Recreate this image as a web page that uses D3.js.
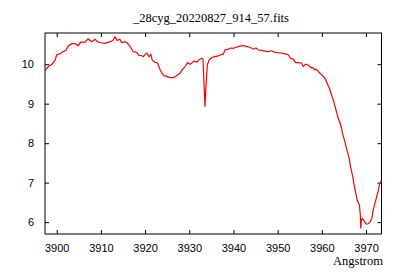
<!DOCTYPE html>
<html>
<head>
<meta charset="utf-8">
<script src="https://cdn.jsdelivr.net/npm/d3@7"></script>
<style>
body { margin: 0; background: #fff; }
.axis text { font-family: "Liberation Sans", sans-serif; font-size: 11px; fill: #000; }
.axis path { display: none; }
.axis line { stroke: #000; }
</style>
</head>
<body>
<div class="chart"></div>
<script>
// spectrum
const wavelength = [3897.35,3898.1,3898.9,3899.6,3900.0,3900.7,3901.5,3902.1,3902.6,3903.4,3904.1,3904.9,3905.4,3906.4,3907.1,3907.9,3908.7,3909.2,3909.8,3910.9,3912.1,3912.7,3913.2,3913.7,3914.3,3914.7,3915.5,3916.0,3916.6,3917.3,3918.1,3918.6,3919.2,3919.6,3920.0,3920.4,3920.9,3921.3,3921.6,3922.2,3922.8,3923.0,3923.4,3923.8,3924.3,3924.9,3925.6,3926.4,3926.9,3927.4,3927.9,3928.4,3928.9,3929.2,3929.6,3930.2,3930.7,3931.1,3931.7,3932.2,3932.8,3933.1,3933.3,3933.55,3933.8,3934.1,3934.5,3935.1,3935.8,3936.6,3937.1,3937.7,3938.1,3938.8,3939.4,3940.0,3940.6,3941.3,3942.2,3943.0,3943.7,3944.5,3945.1,3945.6,3946.4,3947.1,3947.9,3948.6,3949.4,3950.1,3950.9,3951.7,3952.4,3952.9,3953.5,3954.1,3954.7,3955.4,3955.8,3956.3,3956.9,3957.5,3958.1,3958.4,3958.8,3959.4,3960.0,3960.5,3960.9,3961.2,3961.7,3962.2,3962.6,3963.2,3963.7,3964.3,3964.7,3965.2,3965.7,3966.2,3966.5,3967.0,3967.3,3967.7,3968.0,3968.5,3968.7,3968.8,3968.95,3969.1,3969.5,3970.0,3970.5,3970.9,3971.3,3971.6,3972.0,3972.4,3972.8,3973.1,3973.5];
const flux = [9.84,9.94,10.00,10.09,10.24,10.26,10.32,10.35,10.46,10.52,10.52,10.47,10.56,10.56,10.64,10.57,10.63,10.57,10.55,10.53,10.57,10.60,10.69,10.60,10.63,10.55,10.57,10.53,10.45,10.32,10.30,10.22,10.22,10.19,10.25,10.28,10.19,10.25,10.11,10.05,10.03,9.98,9.86,9.77,9.71,9.69,9.66,9.66,9.69,9.73,9.77,9.86,9.92,9.96,10.04,10.00,10.04,10.08,10.05,10.11,10.15,10.13,9.60,8.92,9.50,9.98,10.11,10.17,10.19,10.21,10.24,10.26,10.36,10.38,10.41,10.40,10.43,10.45,10.47,10.45,10.43,10.38,10.41,10.36,10.35,10.33,10.32,10.34,10.30,10.29,10.28,10.26,10.24,10.15,10.13,10.04,10.04,10.03,9.94,10.00,9.98,9.92,9.90,9.86,9.87,9.79,9.73,9.67,9.60,9.52,9.39,9.22,9.09,8.84,8.63,8.46,8.25,8.04,7.82,7.61,7.40,7.15,6.94,6.72,6.56,6.43,6.20,5.84,6.05,6.09,6.05,5.95,5.96,6.00,6.09,6.30,6.47,6.64,6.81,6.98,7.05];
const xTicks = [3900,3910,3920,3930,3940,3950,3960,3970];
const yTicks = [6,7,8,9,10];
const title = "_28cyg_20220827_914_57.fits";
const xLabel = "Angstrom";

let margin = {top:33, right:18.5, left:45, bottom:46};
let outWidth = 400, outHeight = 280;
let width = outWidth - margin.left - margin.right,
    height = outHeight - margin.top - margin.bottom;

const svg = d3.select('.chart').append('svg')
    .attr("width", outWidth)
    .attr("height", outHeight);

const g = svg.append("g")
    .attr("transform", `translate(${margin.left}, ${margin.top})`);

let xScale = d3.scaleLinear().domain([3897.35, 3973.5]).range([0, width]);
let yScale = d3.scaleLinear().domain([5.70, 10.79]).range([height, 0]);

// inward ticks on all four sides, labels on bottom and left only
g.append("g").attr("class", "axis")
    .attr("transform", `translate(0, ${height})`)
    .call(d3.axisBottom(xScale).tickValues(xTicks).tickSize(-4).tickPadding(10).tickFormat(d3.format("d")));
g.append("g").attr("class", "axis")
    .call(d3.axisTop(xScale).tickValues(xTicks).tickSize(-4).tickFormat(""));
g.append("g").attr("class", "axis")
    .call(d3.axisLeft(yScale).tickValues(yTicks).tickSize(-4).tickPadding(11).tickFormat(d3.format("d")));
g.append("g").attr("class", "axis")
    .attr("transform", `translate(${width}, 0)`)
    .call(d3.axisRight(yScale).tickValues(yTicks).tickSize(-4).tickFormat(""));

g.append("rect")
    .attr("width", width)
    .attr("height", height)
    .attr("fill", "none")
    .attr("stroke", "#000");

const line = d3.line()
    .x((d, i) => xScale(wavelength[i]))
    .y(d => yScale(d));

g.append("path")
    .datum(flux)
    .attr("fill", "none")
    .attr("stroke", "#ff0000")
    .attr("stroke-width", 1.2)
    .attr("d", line);

svg.append("text")
    .attr("x", 211)
    .attr("y", 22)
    .attr("text-anchor", "middle")
    .attr("font-family", "Liberation Serif, serif")
    .attr("font-size", 12.5)
    .text(title);

svg.append("text")
    .attr("x", 383)
    .attr("y", 265)
    .attr("text-anchor", "end")
    .attr("font-family", "Liberation Serif, serif")
    .attr("font-size", 12.5)
    .text(xLabel);
</script>
</body>
</html>
